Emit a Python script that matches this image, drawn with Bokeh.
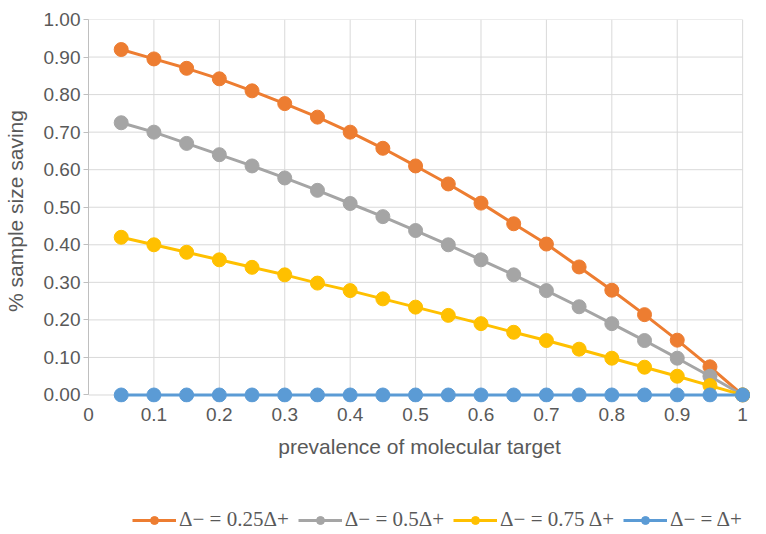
from bokeh.plotting import figure
from bokeh.layouts import column
from bokeh.models import FixedTicker, PrintfTickFormatter, Legend, LegendItem
from bokeh.embed import file_html
from bokeh.resources import INLINE

prevalence = [0.05, 0.1, 0.15, 0.2, 0.25, 0.3, 0.35, 0.4, 0.45, 0.5,
              0.55, 0.6, 0.65, 0.7, 0.75, 0.8, 0.85, 0.9, 0.95, 1.0]
s025 = [0.92, 0.895, 0.87, 0.842, 0.81, 0.776, 0.74, 0.70, 0.657, 0.61,
        0.562, 0.511, 0.456, 0.402, 0.341, 0.279, 0.214, 0.146, 0.075, 0.0]
s05 = [0.725, 0.70, 0.67, 0.64, 0.61, 0.578, 0.545, 0.51, 0.475, 0.438,
       0.40, 0.36, 0.32, 0.278, 0.235, 0.19, 0.145, 0.098, 0.05, 0.0]
s075 = [0.42, 0.40, 0.38, 0.36, 0.34, 0.32, 0.298, 0.278, 0.256, 0.234,
        0.212, 0.19, 0.167, 0.145, 0.122, 0.098, 0.074, 0.05, 0.025, 0.0]
s1 = [0.0] * 20

series_labels = ["\u0394\u2212 = 0.25\u0394+", "\u0394\u2212 = 0.5\u0394+",
                 "\u0394\u2212 = 0.75 \u0394+", "\u0394\u2212 = \u0394+"]
colors = ["#ED7D31", "#A5A5A5", "#FFC000", "#5B9BD5"]

x_ticks = [0, 0.1, 0.2, 0.3, 0.4, 0.5, 0.6, 0.7, 0.8, 0.9, 1.0]
x_tick_labels = ["0", "0.1", "0.2", "0.3", "0.4", "0.5", "0.6", "0.7", "0.8", "0.9", "1"]
y_ticks = [0, 0.1, 0.2, 0.3, 0.4, 0.5, 0.6, 0.7, 0.8, 0.9, 1.0]
all_series = [s025, s05, s075, s1]

p = figure(width=750, height=472, x_range=(0, 1.012), y_range=(-0.02, 1.0),
           output_backend="svg", toolbar_location=None,
           min_border_left=85, min_border_top=19, min_border_right=0, min_border_bottom=70)
p.outline_line_color = None
p.background_fill_color = "white"
p.border_fill_color = "white"
p.xgrid.visible = False
p.ygrid.visible = False

# grid lines (limited to the 0..1 data square)
x_min, x_max = x_ticks[0], x_ticks[-1]
y_min, y_max = y_ticks[0], y_ticks[-1]
p.segment(x0=x_ticks, y0=[y_min] * len(x_ticks), x1=x_ticks, y1=[y_max] * len(x_ticks),
          line_color="#D9D9D9", line_width=1)
p.segment(x0=[x_min] * len(y_ticks), y0=y_ticks, x1=[x_max] * len(y_ticks), y1=y_ticks,
          line_color="#D9D9D9", line_width=1)

for ax in (p.xaxis[0], p.yaxis[0]):
    ax.axis_line_color = "#BFBFBF"
    ax.major_tick_line_color = "#BFBFBF"
    ax.major_tick_out = 5
    ax.major_tick_in = 0
    ax.minor_tick_line_color = None
    ax.major_label_text_font = "Liberation Sans"
    ax.major_label_text_font_size = "19px"
    ax.major_label_text_color = "#595959"
    ax.axis_label_text_font = "Liberation Sans"
    ax.axis_label_text_font_size = "21px"
    ax.axis_label_text_font_style = "normal"
    ax.axis_label_text_color = "#595959"

p.xaxis.ticker = FixedTicker(ticks=x_ticks)
p.xaxis.major_label_overrides = {t: l for t, l in zip(x_ticks, x_tick_labels)}
p.xaxis.axis_line_color = None
p.xaxis.major_tick_line_color = None
p.xaxis.major_tick_out = 0
p.xaxis.major_label_standoff = 5
p.xaxis.axis_label = "prevalence of molecular target"
p.xaxis.axis_label_standoff = 11

p.yaxis.ticker = FixedTicker(ticks=y_ticks)
p.yaxis.bounds = (0, 1)
p.yaxis.formatter = PrintfTickFormatter(format="%.2f")
p.yaxis.major_label_standoff = 3
p.yaxis.axis_label = "% sample size saving"
p.yaxis.axis_label_standoff = 14

for ys, c in zip(all_series, colors):
    p.line(prevalence, ys, line_color=c, line_width=3)
    p.scatter(prevalence, ys, size=14, fill_color=c, line_color=c)

# legend strip underneath the chart (its series lie outside this strip's view)
lg = figure(width=750, height=60, x_range=(0, 1), y_range=(5, 6),
            output_backend="svg", toolbar_location=None,
            x_axis_type=None, y_axis_type=None,
            min_border_left=0, min_border_right=0, min_border_top=0, min_border_bottom=0)
lg.outline_line_color = None
lg.grid.visible = False
items = []
for ys, c, lab in zip(all_series, colors, series_labels):
    l = lg.line(prevalence, ys, line_color=c, line_width=3)
    s = lg.scatter(prevalence, ys, size=12, fill_color=c, line_color=c)
    items.append(LegendItem(label=lab, renderers=[l, s]))
legend = Legend(items=items, orientation="horizontal", location=(44, 0),
                label_text_font="Liberation Serif", label_text_font_size="21px",
                label_text_color="#595959", glyph_width=44, label_standoff=3,
                spacing=9, border_line_color=None, background_fill_alpha=0,
                padding=0, margin=0)
lg.add_layout(legend, "center")

layout = column(p, lg, spacing=0)
open("out.html", "w").write(file_html(layout, INLINE))
